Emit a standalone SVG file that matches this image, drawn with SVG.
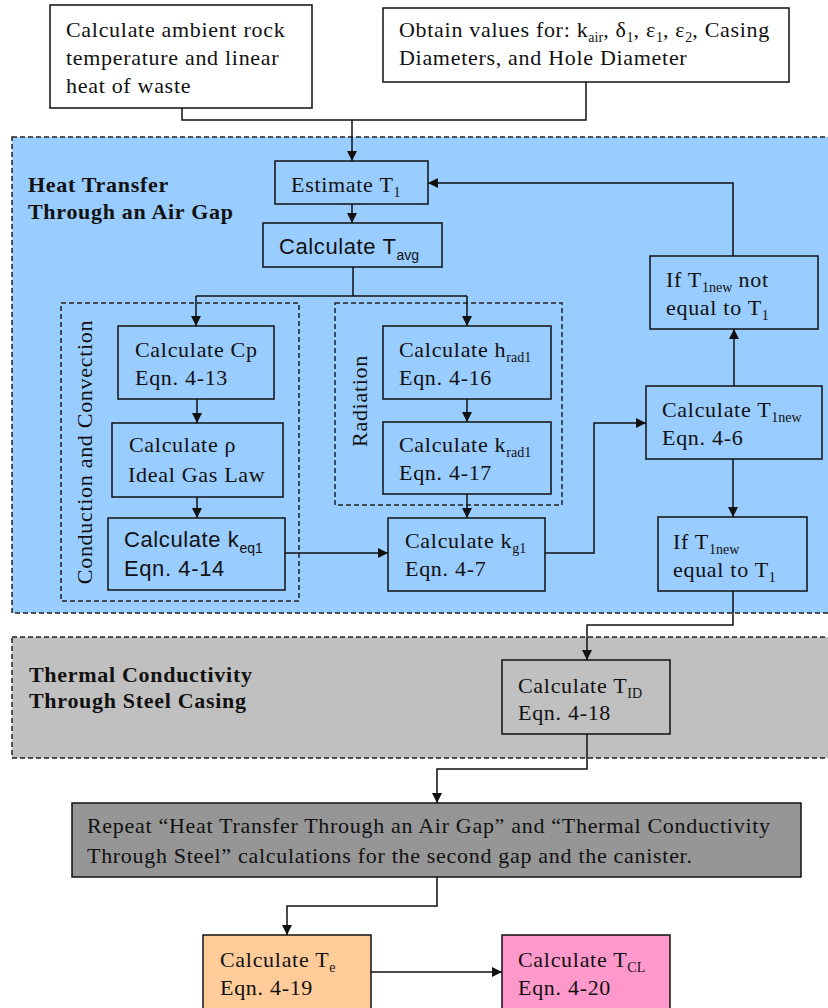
<svg xmlns="http://www.w3.org/2000/svg" width="828" height="1008" viewBox="0 0 828 1008">
<defs>
<style>
.box{stroke:#111;stroke-width:1.5}
.w{fill:#fff}
.b{fill:#99ccff}
.g{fill:#c0c0c0}
.dash{fill:none;stroke:#222;stroke-width:1.5;stroke-dasharray:5 3}
.t{font-family:"Liberation Serif","Times New Roman",serif;font-size:22px;letter-spacing:0.7px;fill:#111}
.a{font-family:"Liberation Sans",Arial,sans-serif;font-size:22px;letter-spacing:0.6px;fill:#111}
.h{font-weight:bold}
.s{font-size:14px;letter-spacing:0}
.c{fill:none;stroke:#111;stroke-width:1.5}
</style>
<marker id="ar" viewBox="0 0 10 10" refX="10" refY="5" markerWidth="10" markerHeight="10" markerUnits="userSpaceOnUse" orient="auto">
<path d="M0,0 L10,5 L0,10 z" fill="#111"/>
</marker>
</defs>
<rect width="828" height="1008" fill="#fff"/>

<g id="region-airgap">
<rect x="12" y="137" width="830" height="476" fill="#99ccff"/>
<rect class="dash" x="12" y="137" width="830" height="476"/>
<text class="t h" x="28" y="192">Heat Transfer</text>
<text class="t h" x="28" y="219">Through an Air Gap</text>
</g>
<g id="region-steel">
<rect x="12" y="637" width="830" height="121" fill="#c0c0c0"/>
<rect class="dash" x="12" y="637" width="830" height="121"/>
<text class="t h" x="29" y="682">Thermal Conductivity</text>
<text class="t h" x="29" y="708">Through Steel Casing</text>
</g>
<g id="group-conduction">
<rect class="dash" x="61" y="303" width="238" height="298"/>
<text class="t" transform="translate(92,452) rotate(-90)" text-anchor="middle">Conduction and Convection</text>
</g>
<g id="group-radiation">
<rect class="dash" x="335" y="303" width="227" height="202"/>
<text class="t" transform="translate(367,401) rotate(-90)" text-anchor="middle">Radiation</text>
</g>

<g id="connectors">
<path class="c" d="M182,108 V120 H586 V82"/>
<path class="c" d="M352,120 V161" marker-end="url(#ar)"/>
<path class="c" d="M352,204 V223" marker-end="url(#ar)"/>
<path class="c" d="M353,267 V296 M196,296 H467"/>
<path class="c" d="M196,296 V326" marker-end="url(#ar)"/>
<path class="c" d="M467,296 V326" marker-end="url(#ar)"/>
<path class="c" d="M197,399 V423" marker-end="url(#ar)"/>
<path class="c" d="M197,497 V518" marker-end="url(#ar)"/>
<path class="c" d="M467,399 V422" marker-end="url(#ar)"/>
<path class="c" d="M467,494 V518" marker-end="url(#ar)"/>
<path class="c" d="M285,553 H388" marker-end="url(#ar)"/>
<path class="c" d="M545,553 H594 V423 H646" marker-end="url(#ar)"/>
<path class="c" d="M734,386 V329" marker-end="url(#ar)"/>
<path class="c" d="M733,256 V183 H428" marker-end="url(#ar)"/>
<path class="c" d="M733,459 V517" marker-end="url(#ar)"/>
<path class="c" d="M733,591 V625 H587 V660" marker-end="url(#ar)"/>
<path class="c" d="M587,734 V769 H437 V803" marker-end="url(#ar)"/>
<path class="c" d="M437,877 V906 H287 V935" marker-end="url(#ar)"/>
<path class="c" d="M371,972 H502" marker-end="url(#ar)"/>
</g>

<g id="n-ambient">
<rect class="box w" x="50" y="5" width="262" height="103"/>
<text class="t" x="66" y="37">Calculate ambient rock</text>
<text class="t" x="66" y="65">temperature and linear</text>
<text class="t" x="66" y="93">heat of waste</text>
</g>
<g id="n-obtain">
<rect class="box w" x="383" y="8" width="406" height="74"/>
<text class="t" x="399" y="37">Obtain values for: k<tspan class="s" dy="5">air</tspan><tspan dy="-5">, δ</tspan><tspan class="s" dy="5">1</tspan><tspan dy="-5">, ε</tspan><tspan class="s" dy="5">1</tspan><tspan dy="-5">, ε</tspan><tspan class="s" dy="5">2</tspan><tspan dy="-5">, Casing</tspan></text>
<text class="t" x="399" y="65">Diameters, and Hole Diameter</text>
</g>
<g id="n-estimate">
<rect class="box b" x="275" y="161" width="153" height="43"/>
<text class="t" x="291" y="192">Estimate T<tspan class="s" dy="5">1</tspan></text>
</g>
<g id="n-tavg">
<rect class="box b" x="263" y="223" width="179" height="44"/>
<text class="a" x="279" y="254">Calculate T<tspan class="s" dy="6">avg</tspan></text>
</g>
<g id="n-cp">
<rect class="box b" x="118" y="326" width="156" height="73"/>
<text class="t" x="135" y="357">Calculate Cp</text>
<text class="t" x="135" y="385">Eqn. 4-13</text>
</g>
<g id="n-rho">
<rect class="box b" x="112" y="423" width="171" height="74"/>
<text class="t" x="129" y="452">Calculate ρ</text>
<text class="t" x="128" y="482">Ideal Gas Law</text>
</g>
<g id="n-keq">
<rect class="box b" x="108" y="518" width="177" height="72"/>
<text class="a" x="124" y="547">Calculate k<tspan class="s" dy="6">eq1</tspan></text>
<text class="a" x="124" y="576">Eqn. 4-14</text>
</g>
<g id="n-hrad">
<rect class="box b" x="383" y="326" width="168" height="73"/>
<text class="t" x="399" y="357">Calculate h<tspan class="s" dy="5">rad1</tspan></text>
<text class="t" x="399" y="385">Eqn. 4-16</text>
</g>
<g id="n-krad">
<rect class="box b" x="383" y="422" width="168" height="72"/>
<text class="t" x="399" y="452">Calculate k<tspan class="s" dy="5">rad1</tspan></text>
<text class="t" x="399" y="480">Eqn. 4-17</text>
</g>
<g id="n-kg">
<rect class="box b" x="388" y="518" width="157" height="73"/>
<text class="t" x="405" y="548">Calculate k<tspan class="s" dy="5">g1</tspan></text>
<text class="t" x="405" y="576">Eqn. 4-7</text>
</g>
<g id="n-t1new">
<rect class="box b" x="646" y="386" width="176" height="73"/>
<text class="t" x="662" y="417">Calculate T<tspan class="s" dy="5">1new</tspan></text>
<text class="t" x="662" y="445">Eqn. 4-6</text>
</g>
<g id="n-notequal">
<rect class="box b" x="650" y="256" width="168" height="73"/>
<text class="t" x="666" y="287">If T<tspan class="s" dy="5">1new</tspan><tspan dy="-5"> not</tspan></text>
<text class="t" x="666" y="315">equal to T<tspan class="s" dy="5">1</tspan></text>
</g>
<g id="n-equal">
<rect class="box b" x="658" y="517" width="149" height="74"/>
<text class="t" x="673" y="549">If T<tspan class="s" dy="5">1new</tspan></text>
<text class="t" x="673" y="577">equal to T<tspan class="s" dy="5">1</tspan></text>
</g>
<g id="n-tid">
<rect class="box g" x="502" y="660" width="168" height="74"/>
<text class="t" x="518" y="693">Calculate T<tspan class="s" dy="5">ID</tspan></text>
<text class="t" x="518" y="720">Eqn. 4-18</text>
</g>
<g id="n-repeat">
<rect class="box" fill="#969696" x="72" y="803" width="729" height="74"/>
<text class="t" x="87" y="833">Repeat “Heat Transfer Through an Air Gap” and “Thermal Conductivity</text>
<text class="t" x="87" y="863">Through Steel” calculations for the second gap and the canister.</text>
</g>
<g id="n-te">
<rect class="box" fill="#ffcc99" x="203" y="935" width="168" height="80"/>
<text class="t" x="220" y="967">Calculate T<tspan class="s" dy="5">e</tspan></text>
<text class="t" x="220" y="995">Eqn. 4-19</text>
</g>
<g id="n-tcl">
<rect class="box" fill="#ff99cc" x="502" y="935" width="168" height="80"/>
<text class="t" x="518" y="967">Calculate T<tspan class="s" dy="5">CL</tspan></text>
<text class="t" x="518" y="995">Eqn. 4-20</text>
</g>
</svg>
